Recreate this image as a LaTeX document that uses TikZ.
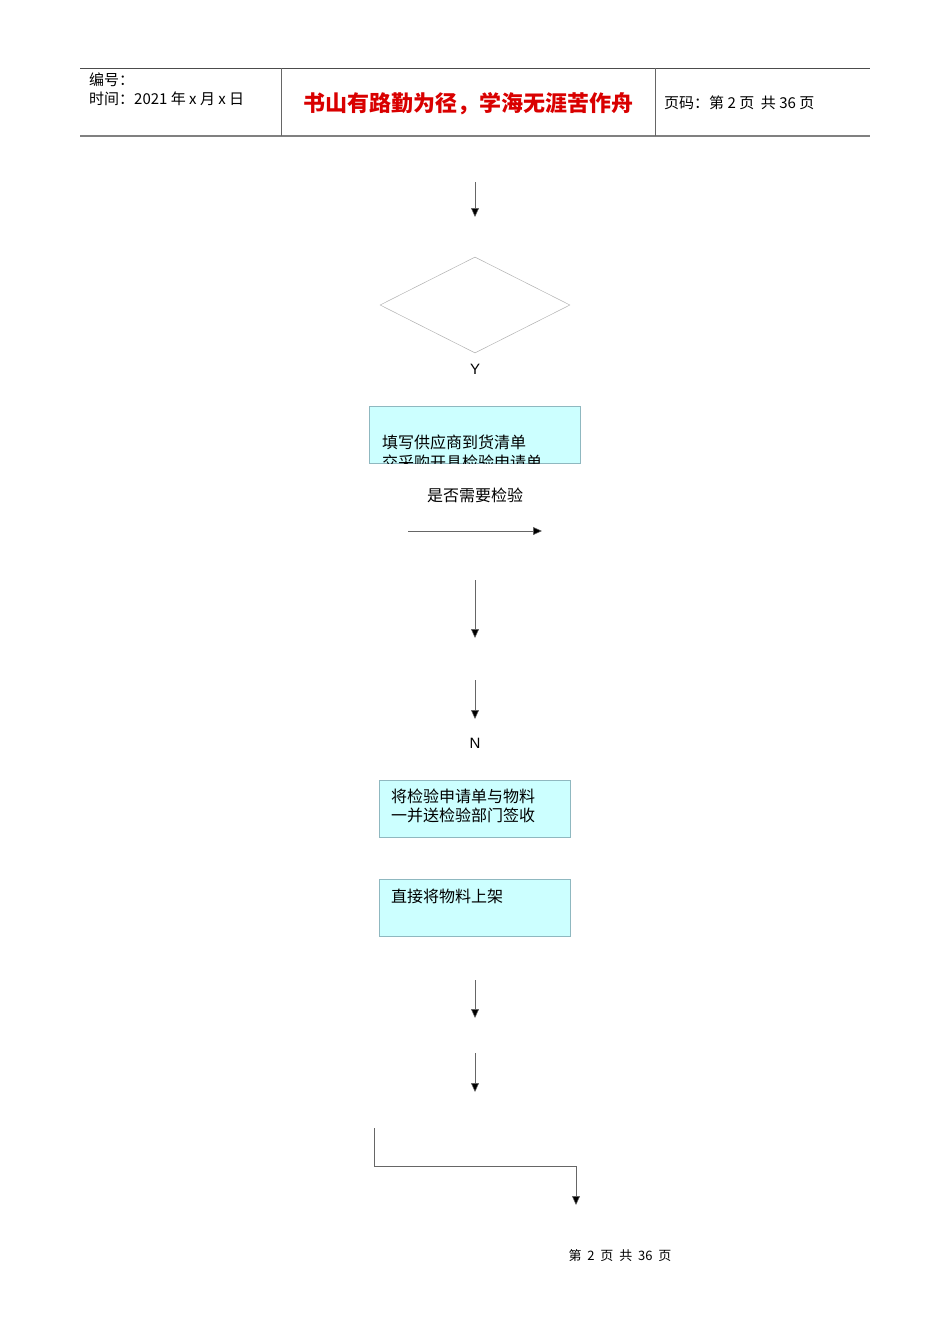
\documentclass[tikz,border=0pt]{standalone}
\usepackage{fontspec}
\setmainfont{Liberation Sans}
\newfontfamily\cjk{Noto Sans CJK SC}
\usetikzlibrary{arrows.meta,shapes.geometric}
\definecolor{boxfill}{HTML}{CCFFFF}
\definecolor{boxline}{HTML}{8FB8C0}
\begin{document}
\begin{tikzpicture}[x=1pt,y=-1pt,
  arr/.style={draw=black!60,line width=0.5pt,-{Triangle[width=8pt,length=9pt,fill=black]}},
  flowbox/.style={draw=boxline,fill=boxfill,line width=0.6pt,minimum width=#1,minimum height=57pt,inner sep=0pt},
  lbl/.style={font=\cjk\fontsize{16}{18}\selectfont,anchor=west,inner sep=0pt},
  letter/.style={font=\fontsize{15}{16}\selectfont,inner sep=0pt}]
\useasboundingbox (0,0) rectangle (950,1344);
% header
\draw[black!70,line width=0.8pt] (80,68) -- (870,68);
\draw[black!50,line width=1.5pt] (80,136) -- (870,136);
\draw[black!60,line width=0.8pt] (281,68) -- (281,136) (655,68) -- (655,136);
\node[lbl,font=\cjk\fontsize{15}{18}\selectfont] (h1) at (89,80) {编号：};
\node[lbl,font=\cjk\fontsize{15}{18}\selectfont] (h2) at (89,99) {时间：2021 年 x 月 x 日};
\node[inner sep=0pt,font=\cjk\bfseries\fontsize{22}{26}\selectfont,text=red!85!black] (title) at (468,104) {书山有路勤为径，学海无涯苦作舟};
\node[lbl,font=\cjk\fontsize{15}{18}\selectfont] (h3) at (664,103) {页码：第 2 页\ \ 共 36 页};
% flow
\coordinate (a1s) at (475,182); \coordinate (a1e) at (475,217);
\draw[arr] (a1s) -- (a1e);
\node[diamond,draw=black!30,line width=0.5pt,minimum width=190pt,minimum height=96pt,inner sep=0pt,aspect=2] (dia) at (475,305) {};
\node[letter] (Y) at (475,369) {Y};
\node[flowbox=211pt] (b1) at (474.5,434.5) {};
\begin{scope}
\clip (b1.south west) rectangle (b1.north east);
\node[lbl] (b1t) at (382,442) {填写供应商到货清单};
\node[lbl] (b1u) at (382,462) {交采购开具检验申请单};
\end{scope}
\node[inner sep=0pt,font=\cjk\fontsize{16}{18}\selectfont] (q) at (475,495) {是否需要检验};
\coordinate (hs) at (408,531); \coordinate (he) at (542,531);
\draw[arr] (hs) -- (he);
\coordinate (a2s) at (475,580); \coordinate (a2e) at (475,638);
\draw[arr] (a2s) -- (a2e);
\coordinate (a3s) at (475,680); \coordinate (a3e) at (475,719);
\draw[arr] (a3s) -- (a3e);
\node[letter] (N) at (475,743) {N};
\node[flowbox=191pt] (b2) at (474.5,808.5) {};
\node[lbl] (b2t) at (391,796) {将检验申请单与物料};
\node[lbl] (b2u) at (391,815) {一并送检验部门签收};
\node[flowbox=191pt] (b3) at (474.5,908) {};
\node[lbl] (b3t) at (391,896) {直接将物料上架};
\coordinate (a4s) at (475,980); \coordinate (a4e) at (475,1018);
\draw[arr] (a4s) -- (a4e);
\coordinate (a5s) at (475,1053); \coordinate (a5e) at (475,1092);
\draw[arr] (a5s) -- (a5e);
\coordinate (ps) at (374,1128); \coordinate (pe) at (576,1205);
\draw[arr] (ps) |- (576,1166) -- (pe);
% footer
\node[inner sep=0pt,font=\cjk\fontsize{13}{15}\selectfont] (foot) at (620,1256) {第\ \ 2\ \ 页\ \ 共\ \ 36\ \ 页};
\end{tikzpicture}
\end{document}
